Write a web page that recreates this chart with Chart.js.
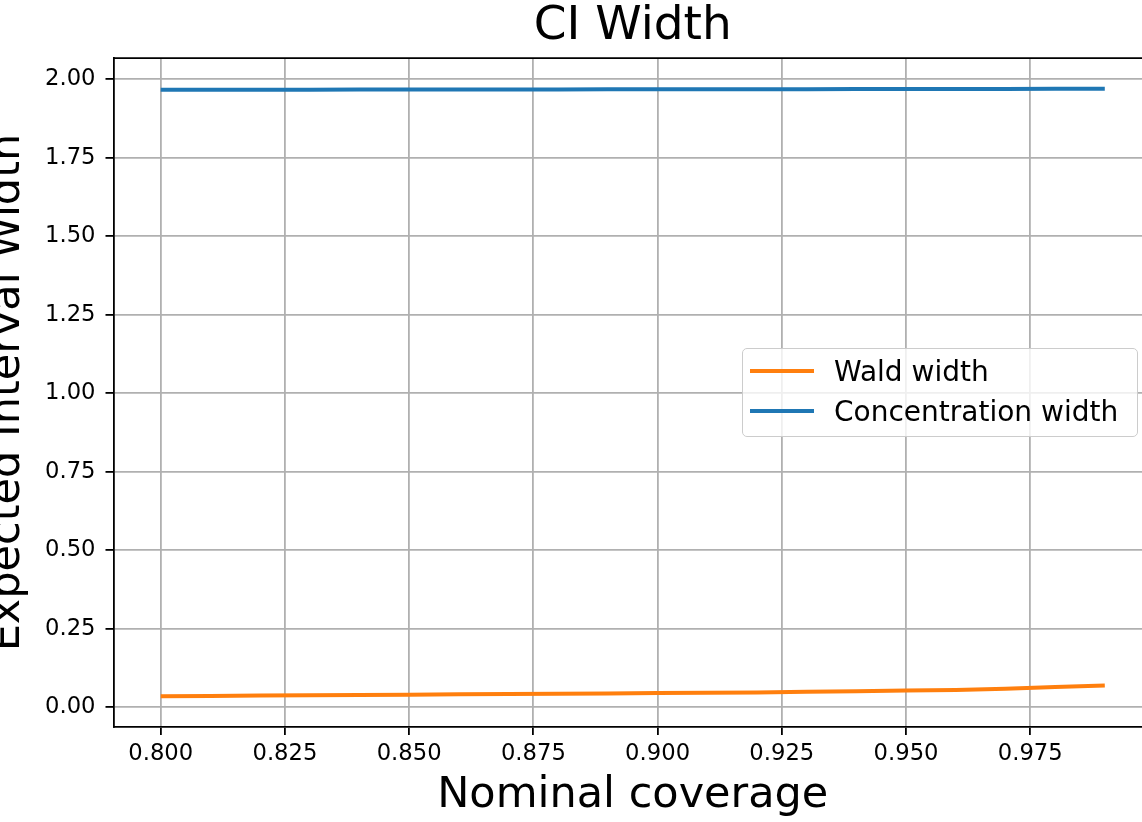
<!DOCTYPE html>
<html>
<head>
<meta charset="utf-8">
<script src="https://cdn.jsdelivr.net/npm/chart.js@4/dist/chart.umd.min.js"></script>
<style>
  html, body { margin: 0; padding: 0; background: #fff; overflow: hidden; }
  body { width: 1142px; height: 822px; position: relative; }
  #wrap { position: absolute; left: -20px; top: 0; width: 1180px; height: 822px; }
  #legend {
    position: absolute; left: 742px; top: 348px; width: 394px; height: 87px;
    border: 1.5px solid #cccccc; border-radius: 5px; background: rgba(255,255,255,0.8);
    font-family: "DejaVu Sans", sans-serif; font-size: 28px; color: #000;
  }
  .row { position: absolute; left: 0; height: 40px; display: flex; align-items: center; }
  .swatch { width: 64px; height: 4px; margin-left: 7px; margin-right: 20px; }
</style>
</head>
<body>
<div id="wrap"><canvas id="chart" width="1180" height="822"></canvas></div>
<div id="legend"></div>
<script>
// nominal coverage levels (x)
const coverage = [0.80, 0.81, 0.82, 0.83, 0.84, 0.85, 0.86, 0.87, 0.88, 0.89,
                  0.90, 0.91, 0.92, 0.93, 0.94, 0.95, 0.96, 0.97, 0.98, 0.99];
// expected interval widths
const waldWidth = [0.035, 0.036, 0.037, 0.038, 0.039, 0.040, 0.041, 0.042, 0.043, 0.044,
                   0.045, 0.046, 0.047, 0.049, 0.051, 0.053, 0.055, 0.059, 0.064, 0.069];
const concentrationWidth = [1.966, 1.966, 1.9662, 1.9664, 1.9666, 1.9668, 1.967, 1.967, 1.9672, 1.9674,
                            1.9676, 1.9678, 1.968, 1.968, 1.9682, 1.9684, 1.9686, 1.9688, 1.969, 1.969];
const seriesLabels = ['Wald width', 'Concentration width'];
const xTicks = [0.800, 0.825, 0.850, 0.875, 0.900, 0.925, 0.950, 0.975];
const yTicks = [0.00, 0.25, 0.50, 0.75, 1.00, 1.25, 1.50, 1.75, 2.00];

const ORANGE = '#ff7f0e';
const BLUE = '#1f77b4';
const FONT = '"DejaVu Sans", sans-serif';

// matplotlib-ish frame: top and right spines
const framePlugin = {
  id: 'frame',
  afterDraw(chart) {
    const { ctx, chartArea: a } = chart;
    ctx.save();
    ctx.strokeStyle = '#000';
    ctx.lineWidth = 1.8;
    ctx.beginPath();
    ctx.moveTo(a.left, a.top);
    ctx.lineTo(a.right, a.top);
    ctx.lineTo(a.right, a.bottom);
    ctx.stroke();
    ctx.restore();
  }
};

const toPoints = (ys) => coverage.map((x, i) => ({ x: x, y: ys[i] }));

const chart = new Chart(document.getElementById('chart'), {
  type: 'line',
  data: {
    datasets: [
      { label: seriesLabels[0], data: toPoints(waldWidth), borderColor: ORANGE, backgroundColor: ORANGE,
        borderWidth: 4, pointRadius: 0, fill: false, tension: 0 },
      { label: seriesLabels[1], data: toPoints(concentrationWidth), borderColor: BLUE, backgroundColor: BLUE,
        borderWidth: 4, pointRadius: 0, fill: false, tension: 0 }
    ]
  },
  options: {
    responsive: false,
    animation: false,
    layout: { padding: { left: 0, right: 8, top: 0, bottom: 0 } },
    plugins: {
      legend: { display: false },
      tooltip: { enabled: false },
      title: {
        display: true, text: 'CI Width', fullSize: false, color: '#000',
        font: { family: FONT, size: 47, weight: 'normal', lineHeight: 1.15 },
        padding: { top: 0, bottom: 4 }
      }
    },
    scales: {
      x: {
        type: 'linear', min: 0.7905, max: 0.9995,
        afterBuildTicks: (s) => { s.ticks = xTicks.map(v => ({ value: v })); },
        afterFit: (s) => { s.height = 95; },
        ticks: {
          color: '#000', padding: 5, maxRotation: 0, autoSkip: false,
          font: { family: FONT, size: 22.7 },
          callback: (v) => Number(v).toFixed(3)
        },
        grid: { color: '#b0b0b0', lineWidth: 1.8, tickColor: '#000', tickLength: 8, tickWidth: 1.8 },
        border: { color: '#000', width: 1.8 },
        title: {
          display: true, text: 'Nominal coverage', color: '#000',
          font: { family: FONT, size: 43 }, padding: { top: 0, bottom: 0 }
        }
      },
      y: {
        type: 'linear', min: -0.063, max: 2.067,
        afterBuildTicks: (s) => { s.ticks = yTicks.map(v => ({ value: v })); },
        afterFit: (s) => { s.width = 133.5; },
        ticks: {
          color: '#000', padding: 10, autoSkip: false,
          font: { family: FONT, size: 22.7 },
          callback: (v) => Number(v).toFixed(2)
        },
        grid: { color: '#b0b0b0', lineWidth: 1.8, tickColor: '#000', tickLength: 8, tickWidth: 1.8 },
        border: { color: '#000', width: 1.8 },
        title: {
          display: true, text: 'Expected Interval Width', color: '#000',
          font: { family: FONT, size: 43 }, padding: { top: 2.3, bottom: 0 }
        }
      }
    }
  },
  plugins: [framePlugin]
});

// legend built from the chart's datasets
const legend = document.getElementById('legend');
chart.data.datasets.forEach((ds, i) => {
  const row = document.createElement('div');
  row.className = 'row';
  row.style.top = (2 + i * 40) + 'px';
  const sw = document.createElement('div');
  sw.className = 'swatch';
  sw.style.background = ds.borderColor;
  const txt = document.createElement('span');
  txt.textContent = ds.label;
  row.appendChild(sw);
  row.appendChild(txt);
  legend.appendChild(row);
});
</script>
</body>
</html>
